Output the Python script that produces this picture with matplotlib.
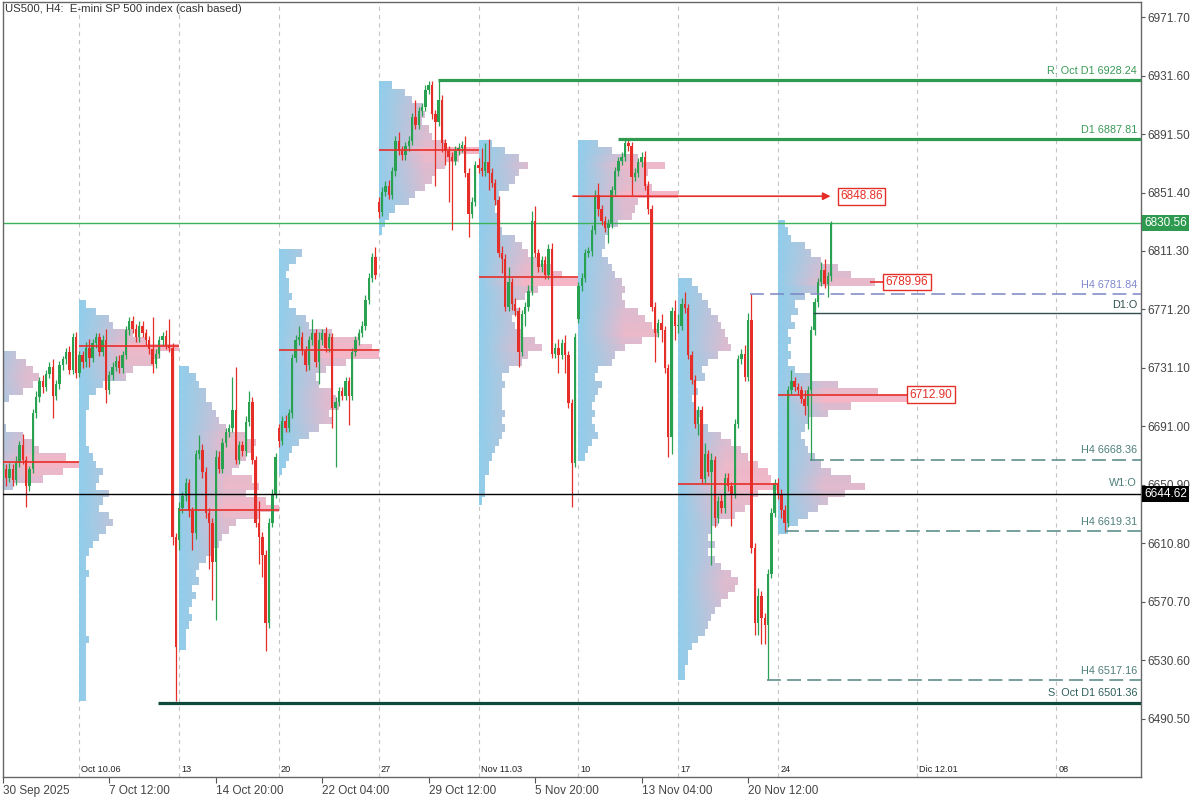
import numpy as np
import matplotlib
matplotlib.use("Agg")
import matplotlib.pyplot as plt
from matplotlib.path import Path
from matplotlib.patches import PathPatch

plt.rcParams['font.family'] = ['Liberation Sans', 'DejaVu Sans']
plt.rcParams['lines.scale_dashes'] = False

# ---------------- data ----------------
# H4 closes, bar 0 = 30 Sep 2025 00:00 (6 bars/day, 30 bars/week)
closes = [
    # week of 29 Sep (partial)
    6660, 6662, 6656, 6662, 6654, 6666, 6678, 6668, 6650, 6662, 6700, 6711, 6722, 6718, 6727, 6732,
    6712, 6720, 6733, 6737, 6742, 6730, 6752, 6728,
    # week of 6 Oct
    6740, 6735, 6745, 6738, 6748, 6752, 6742, 6750, 6716, 6726, 6732, 6736, 6731, 6740, 6757, 6763,
    6758, 6752, 6760, 6755, 6750, 6744, 6734, 6741, 6750, 6753, 6747, 6745, 6615, 6540,
    # week of 13 Oct
    6635, 6643, 6652, 6633, 6618, 6672, 6675, 6660, 6632, 6625, 6598, 6670, 6662, 6680, 6687, 6690,
    6702, 6668, 6678, 6674, 6694, 6708, 6668, 6625, 6615, 6603, 6556, 6625, 6645, 6670,
    # week of 20 Oct
    6681, 6695, 6690, 6700, 6738, 6750, 6752, 6743, 6733, 6750, 6755, 6735, 6750, 6755, 6745, 6752,
    6704, 6708, 6715, 6712, 6722, 6712, 6742, 6750, 6755, 6760, 6778, 6793, 6807, 6795,
    # week of 27 Oct
    6838, 6852, 6856, 6850, 6866, 6887, 6880, 6877, 6883, 6887, 6903, 6898, 6907, 6910, 6922, 6925,
    6905, 6900, 6915, 6885, 6880, 6876, 6873, 6880, 6882, 6884, 6865, 6837, 6845, 6870,
    # week of 3 Nov
    6868, 6866, 6872, 6865, 6858, 6846, 6810, 6806, 6773, 6790, 6775, 6770, 6742, 6768, 6773, 6784,
    6832, 6810, 6800, 6805, 6795, 6813, 6741, 6745, 6740, 6748, 6740, 6707, 6666, 6752,
    # week of 10 Nov
    6787, 6793, 6810, 6811, 6826, 6850, 6840, 6832, 6827, 6830, 6853, 6866, 6873, 6876, 6885, 6883,
    6862, 6865, 6872, 6876, 6856, 6840, 6773, 6755, 6762, 6757, 6731, 6684, 6770, 6760,
    # week of 17 Nov
    6760, 6775, 6772, 6740, 6723, 6693, 6702, 6655, 6672, 6660, 6668, 6628, 6640, 6635, 6656, 6650,
    6645, 6693, 6737, 6741, 6725, 6764, 6608, 6556, 6575, 6560, 6555, 6590, 6632, 6652,
    # week of 24 Nov (partial)
    6645, 6634, 6625, 6716, 6722, 6718, 6716, 6710, 6705, 6716, 6757, 6776, 6790, 6798, 6789, 6794, 6830.56,
]
gap_opens = {0: 6664, 54: 6613, 84: 6690, 114: 6845, 174: 6765}
wick_up = [
    4, 3, 3, 4, 3, 5, 3, 8, 3, 2, 3, 4, 3, 4, 3, 3, 5, 3, 3, 2, 3, 4, 3, 4,
    3, 3, 4, 6, 3, 3, 3, 4, 8, 3, 3, 3, 4, 3, 3, 3, 4, 3, 3, 3, 3, 3, 22, 3, 3, 3, 4, 18, 3, 3,
    4, 3, 4, 3, 3, 3, 10, 4, 3, 3, 3, 5, 4, 3, 3, 3, 23, 30, 3, 3, 4, 7, 3, 3, 15, 4, 3, 3, 3, 3,
    3, 3, 4, 3, 3, 4, 8, 4, 3, 3, 10, 3, 6, 3, 4, 3, 3, 3, 3, 3, 3, 3, 3, 3, 3, 3, 3, 3, 3, 7,
    3, 3, 3, 4, 3, 3, 6, 3, 3, 3, 3, 12, 3, 3, 3, 3, 3, 3, 13, 3, 3, 3, 3, 3, 3, 3, 6, 3, 3, 3,
    5, 14, 13, 16, 3, 3, 3, 5, 3, 10, 3, 4, 3, 3, 3, 4, 7, 10, 3, 3, 3, 3, 4, 3, 6, 3, 6, 3, 3, 3,
    3, 3, 3, 3, 3, 3, 8, 3, 3, 3, 3, 3, 3, 3, 3, 3, 3, 3, 3, 3, 4, 3, 3, 3, 3, 6, 3, 3, 3, 8,
    8, 4, 8, 3, 3, 3, 3, 3, 8, 3, 5, 3, 3, 5, 3, 3, 3, 3, 3, 3, 6, 5, 18, 3, 5, 3, 3, 3, 3, 3,
    4, 3, 3, 3, 8, 3, 3, 3, 6, 3, 3, 3, 3, 6, 8, 3, 1,
]
wick_dn = [
    3, 4, 6, 3, 4, 3, 3, 3, 14, 3, 3, 3, 3, 4, 3, 3, 15, 3, 3, 3, 3, 3, 3, 4,
    3, 4, 3, 6, 3, 3, 3, 3, 9, 3, 3, 3, 3, 3, 3, 3, 3, 3, 3, 3, 3, 3, 6, 3, 3, 3, 3, 3, 5, 37,
    7, 3, 3, 4, 12, 4, 3, 4, 4, 32, 26, 40, 3, 3, 3, 3, 3, 3, 3, 3, 3, 3, 3, 3, 18, 15, 19, 3, 3, 3,
    4, 3, 3, 3, 3, 3, 3, 3, 4, 3, 3, 3, 15, 3, 3, 3, 14, 41, 3, 3, 3, 20, 3, 3, 3, 3, 3, 3, 3, 3,
    4, 3, 3, 3, 3, 3, 3, 3, 3, 3, 3, 3, 3, 3, 3, 3, 3, 44, 3, 6, 10, 31, 47, 3, 3, 3, 3, 16, 3, 3,
    3, 3, 3, 12, 3, 3, 3, 10, 3, 3, 4, 3, 10, 3, 8, 3, 3, 3, 3, 3, 3, 3, 3, 3, 12, 3, 12, 3, 30, 3,
    3, 3, 3, 3, 3, 3, 5, 3, 3, 10, 3, 3, 3, 3, 3, 3, 12, 3, 3, 3, 3, 3, 3, 20, 3, 8, 3, 14, 12, 10,
    5, 3, 3, 3, 3, 3, 8, 3, 3, 3, 64, 6, 3, 3, 3, 3, 22, 3, 3, 3, 3, 3, 4, 8, 8, 18, 13, 38, 3, 3,
    4, 6, 6, 3, 3, 3, 3, 3, 6, 16, 48, 3, 3, 3, 3, 9, 3,
]

# weekly volume profiles: start bar, top row price (rows every 5 pts), row lengths (in bars)
prof_start = [-6, 24, 54, 84, 114, 144, 174, 204, 234]
prof_top = [6755, 6775, 6730, 6810, 6925, 6885, 6885, 6790, 6830]
prof_w0 = [4, 5, 7, 11, 14, 16, 18, 16, 13, 9, 6, 5, 5, 8, 13, 16, 18, 26, 30, 25, 19, 10, 6, 3]
prof_w1 = [2, 5, 9, 10, 16, 20, 30, 24, 22, 16, 14, 7, 5, 3, 3, 2, 2, 2, 2, 2, 3, 4, 5, 7, 6, 5, 9, 7,
           6, 9, 10, 8, 6, 4, 3, 2, 2, 3, 2, 2, 2, 2, 2, 2, 2, 2, 3, 2, 2, 2, 2, 2, 2, 2, 2]
prof_w2 = [3, 5, 6, 8, 8, 10, 11, 12, 14, 20, 23, 22, 20, 18, 16, 22, 24, 20, 26, 30, 24, 17, 15, 13,
           12, 10, 8, 6, 5, 6, 4, 5, 4, 3, 4, 3, 2, 2, 2]
prof_w3 = [7, 5, 3, 2, 3, 3, 4, 3, 5, 8, 9, 16, 24, 28, 30, 20, 14, 11, 12, 16, 17, 18, 15, 16, 12, 9,
           6, 4, 3, 2, 1]
prof_w4 = [4, 8, 10, 13, 14, 13, 15, 16, 20, 30, 24, 20, 17, 16, 14, 11, 9, 5, 3, 2, 1]
prof_w5 = [4, 8, 12, 15, 12, 11, 9, 6, 6, 5, 6, 6, 7, 11, 13, 15, 18, 22, 25, 30, 18, 14, 11, 12, 10,
           11, 13, 17, 19, 15, 13, 9, 7, 8, 7, 7, 7, 8, 7, 8, 7, 6, 5, 4, 3, 3, 2, 2, 2, 1]
prof_w6 = [6, 10, 18, 26, 21, 20, 22, 30, 18, 17, 16, 12, 9, 8, 8, 7, 9, 10, 11, 13, 14, 13, 14, 18,
           20, 22, 24, 19, 14, 11, 10, 6, 5, 7, 6, 5, 4, 5, 4, 5, 6, 4, 3, 2]
prof_w7 = [4, 6, 7, 9, 10, 12, 13, 14, 15, 16, 12, 9, 7, 8, 5, 6, 4, 5, 7, 6, 9, 13, 16, 19, 21, 24,
           27, 28, 30, 24, 22, 20, 17, 12, 10, 9, 11, 9, 11, 13, 16, 18, 17, 15, 13, 11, 10, 9, 8, 6,
           4, 3, 3, 2, 2]
prof_w8 = [2, 3, 4, 8, 10, 13, 18, 22, 29, 12, 8, 5, 6, 4, 5, 3, 4, 3, 4, 3, 5, 10, 18, 30, 39, 22, 15,
           9, 8, 7, 8, 9, 11, 13, 16, 22, 26, 20, 15, 12, 9, 6, 3]
prof_widths = [prof_w0, prof_w1, prof_w2, prof_w3, prof_w4, prof_w5, prof_w6, prof_w7, prof_w8]
poc_prices = [6666.7, 6746.2, 6633.8, 6743.4, 6880.5, 6793.5, 6848.86, 6651.6]

# key levels: (price, start bar, label)
lvl_r_oct = (6928.24, 131.8, "R. Oct D1 6928.24")
lvl_d1 = (6887.81, 185.9, "D1 6887.81")
lvl_h4_a = (6781.84, 225.6, "H4 6781.84")
lvl_d1o = (6768.8, 244.5, "D1:O")
lvl_h4_b = (6668.36, 243.6, "H4 6668.36")
lvl_w1o = (6644.62, "W1:O")
lvl_h4_c = (6619.31, 236.1, "H4 6619.31")
lvl_h4_d = (6517.16, 230.7, "H4 6517.16")
lvl_s_oct = (6501.36, 47.6, "S. Oct D1 6501.36")
last_price = 6830.56

ytick_vals = [6971.70, 6931.60, 6891.50, 6851.40, 6811.30, 6771.20, 6731.10, 6691.00,
              6650.90, 6610.80, 6570.70, 6530.60, 6490.50]
xtick_pos = [1.1, 33, 65, 97, 129, 161, 193, 225]
xtick_labels = ["30 Sep 2025", "7 Oct 12:00", "14 Oct 20:00", "22 Oct 04:00", "29 Oct 12:00",
                "5 Nov 20:00", "13 Nov 04:00", "20 Nov 12:00"]
week_pos = [24, 54, 84, 114, 144, 174, 204, 234, 275.8, 317.7]
week_labels = ["Oct 10.06", "13", "20", "27", "Nov 11.03", "10", "17", "24", "Dic 12.01", "08"]

# ---------------- figure ----------------
GREEN = '#28a150'
RED = '#e62e28'
fig = plt.figure(figsize=(12, 8), dpi=100)
ax = fig.add_axes([3 / 1200, 23 / 800, 1138 / 1200, 775 / 800])
ax.set_facecolor('white')

# volume profiles
blue = np.array([0.54, 0.80, 0.92])
pink = np.array([0.96, 0.70, 0.77])
for x0, top, widths in zip(prof_start, prof_top, prof_widths):
    w = np.array(widths, float)
    n = len(w)
    prices = top - 5 * np.arange(n)
    wmax = w.max()
    ncol = 240
    xs = (np.arange(ncol) + 0.5) / ncol * wmax
    t = np.clip(xs[None, :] / 14.0, 0, 1) * (0.45 + 0.55 * (w[:, None] / wmax))
    img = blue[None, None, :] * (1 - t[..., None]) + pink[None, None, :] * t[..., None]
    extent = [x0, x0 + wmax, prices[-1] - 2.5, prices[0] + 2.5]
    im = ax.imshow(img, extent=extent, origin='upper', aspect='auto',
                   interpolation='nearest', zorder=1, alpha=0.95)
    verts = [(x0, prices[0] + 2.5)]
    for p, wi in zip(prices, w):
        verts += [(x0 + wi, p + 2.5), (x0 + wi, p - 2.5)]
    verts += [(x0, prices[-1] - 2.5), (x0, prices[0] + 2.5)]
    codes = [Path.MOVETO] + [Path.LINETO] * (len(verts) - 2) + [Path.CLOSEPOLY]
    patch = PathPatch(Path(verts, codes), transform=ax.transData, fc='none', ec='none')
    im.set_clip_path(patch)

# week separators
for gx in week_pos:
    ax.axvline(gx, color='#c4c4c4', lw=0.8, dashes=(3, 3), zorder=0.5)

# candles
c = np.array(closes, float)
o = np.concatenate([[c[0]], c[:-1]])
for k, v in gap_opens.items():
    o[k] = v
hi = np.maximum(o, c) + np.array(wick_up, float)
lo = np.minimum(o, c) - np.array(wick_dn, float)
idx = np.arange(len(c))
up = c >= o
cols = np.where(up, GREEN, RED)
ax.vlines(idx, lo, hi, colors=cols, lw=0.9, zorder=3)
body_h = np.maximum(np.abs(c - o), 0.8)
ax.bar(idx, body_h, bottom=np.minimum(o, c), width=0.72, color=cols, linewidth=0, zorder=3.1)

# POC lines
for k, pp in enumerate(poc_prices):
    if k == 6:
        continue
    ax.hlines(pp, prof_start[k], prof_start[k] + 30, colors=RED, lw=1.2, zorder=4)
ax.annotate('', xy=(249.8, poc_prices[6]), xytext=(172.4, poc_prices[6]),
            arrowprops=dict(arrowstyle='-|>', color=RED, lw=1.2, mutation_scale=11,
                            shrinkA=0, shrinkB=0), zorder=4)
ax.text(252.6, poc_prices[6], '6848.86', ha='left', va='center', fontsize=8.5, color=RED, zorder=6,
        bbox=dict(boxstyle='square,pad=0.2', fc='white', ec=RED, lw=1))
ax.hlines(6712.90, 234, 273.0, colors=RED, lw=1.2, zorder=4)
ax.text(273.6, 6712.90, '6712.90', ha='left', va='center', fontsize=8.5, color=RED, zorder=6,
        bbox=dict(boxstyle='square,pad=0.2', fc='white', ec=RED, lw=1))
ax.hlines(6789.96, 261.5, 265.8, colors=RED, lw=1.2, zorder=4)
ax.text(266.4, 6789.96, '6789.96', ha='left', va='center', fontsize=8.5, color=RED, zorder=6,
        bbox=dict(boxstyle='square,pad=0.2', fc='white', ec=RED, lw=1))

XMIN, XMAX = 1.05, 343.1
# level lines
ax.hlines(lvl_r_oct[0], lvl_r_oct[1], XMAX, colors='#2e9a4f', lw=2.3, zorder=5)
ax.hlines(lvl_d1[0], lvl_d1[1], XMAX, colors='#2e9a4f', lw=2.3, zorder=5)
ax.hlines(lvl_s_oct[0], lvl_s_oct[1], XMAX, colors='#0e4a3b', lw=2.3, zorder=5)
ax.hlines(lvl_h4_a[0], lvl_h4_a[1], XMAX, colors='#7c86c4', lw=1.1, linestyles=(0, (10, 4.5)), zorder=5)
for lv in (lvl_h4_b, lvl_h4_c, lvl_h4_d):
    ax.hlines(lv[0], lv[1], XMAX, colors='#5f8f8a', lw=1.2, linestyles=(0, (10, 4.5)), zorder=5)
ax.hlines(lvl_d1o[0], lvl_d1o[1], XMAX, colors='#2f4f4f', lw=1.0, zorder=5)
ax.axhline(lvl_w1o[0], color='black', lw=1.0, zorder=5)
ax.axhline(last_price, color='#3cb35a', lw=1.0, zorder=2.5)

# level labels (right aligned inside plot)
ytr = ax.get_yaxis_transform()
def lbl(price, text, color, off=3):
    ax.annotate(text, xy=(0.9965, price), xycoords=ytr, xytext=(0, off), textcoords='offset points',
                ha='right', va='bottom', fontsize=7.8, color=color, zorder=6)
lbl(lvl_r_oct[0], lvl_r_oct[2], '#3a9a56', 3)
lbl(lvl_d1[0], lvl_d1[2], '#3a9a56', 3)
lbl(lvl_h4_a[0], lvl_h4_a[2], '#8088d0', 3)
lbl(lvl_d1o[0], lvl_d1o[2], '#2f4f4f', 2)
lbl(lvl_h4_b[0], lvl_h4_b[2], '#4d7f7a', 3)
lbl(lvl_w1o[0], lvl_w1o[1], '#4d7f7a', 4.5)
lbl(lvl_h4_c[0], lvl_h4_c[2], '#4d7f7a', 3)
lbl(lvl_h4_d[0], lvl_h4_d[2], '#4d7f7a', 3)
lbl(lvl_s_oct[0], lvl_s_oct[2], '#2f5f5a', 3.5)

# price boxes on the axis
ax.text(1.0028, last_price, '6830.56', transform=ytr, ha='left', va='center', fontsize=8.5,
        color='white', zorder=7, clip_on=False,
        bbox=dict(boxstyle='square,pad=0.18', fc='#2e9a4f', ec='none'))
ax.text(1.0028, lvl_w1o[0], '6644.62', transform=ytr, ha='left', va='center', fontsize=8.5,
        color='white', zorder=7, clip_on=False,
        bbox=dict(boxstyle='square,pad=0.18', fc='black', ec='none'))

# title
ax.text(0.002, 0.997, 'US500, H4:  E-mini SP 500 index (cash based)', transform=ax.transAxes,
        ha='left', va='top', fontsize=8.2, color='#333333', zorder=7)

# week labels at bottom inside plot
xtr = ax.get_xaxis_transform()
for gx, t in zip(week_pos, week_labels):
    ax.text(gx + 0.6, 0.004, t, transform=xtr, ha='left', va='bottom', fontsize=6.6, color='#222222')

# axes formatting
ax.set_xlim(XMIN, XMAX)
ax.set_ylim(6450.7, 6982.0)
ax.yaxis.tick_right()
ax.set_yticks(ytick_vals)
ax.set_yticklabels([f"{v:.2f}" for v in ytick_vals])
ax.tick_params(axis='y', length=3, width=0.8, pad=1.5, labelsize=8.5, colors='#555555', labelcolor='#444444')
ax.set_xticks(xtick_pos)
ax.set_xticklabels(xtick_labels)
for tl in ax.get_xticklabels():
    tl.set_horizontalalignment('left')
ax.tick_params(axis='x', length=4, width=0.8, pad=2, labelsize=8.5, colors='#555555', labelcolor='#444444')
for sp in ax.spines.values():
    sp.set_color('#666666')
    sp.set_linewidth(1.0)

fig.savefig('out.png', dpi=100)
